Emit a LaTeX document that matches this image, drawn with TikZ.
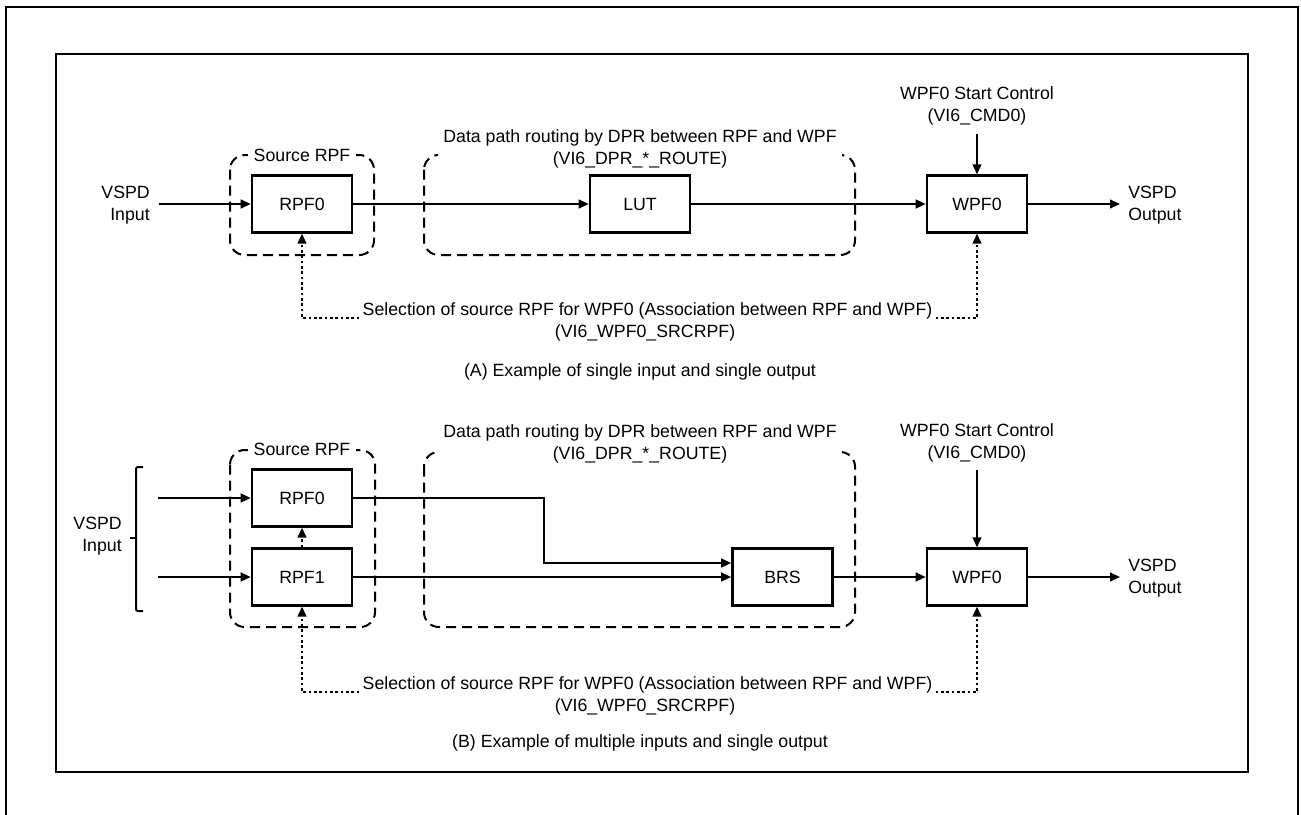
\documentclass[tikz,border=0pt]{standalone}
\usepackage{fontspec}
\setmainfont{Liberation Sans}
\usetikzlibrary{arrows.meta,calc}
\begin{document}
\begin{tikzpicture}[x=0.75pt,y=-0.75pt,
  font=\fontsize{13.3}{16.4}\selectfont,
  blk/.style={draw, line width=1.9pt, minimum width=75pt, minimum height=42.5pt, inner sep=0pt},
  arr/.style={line width=1.5pt, -{Triangle[length=7.5pt,width=6.5pt]}},
  selarr/.style={line width=1.5pt, dash pattern=on 2pt off 2pt, -{Triangle[length=7.5pt,width=6.5pt]}},
  grp/.style={line width=1.5pt, dash pattern=on 7.5pt off 4.5pt, rounded corners=11pt},
  lbl/.style={fill=white, inner xsep=4pt, inner ysep=1.5pt, align=center},
  txt/.style={inner sep=0pt, align=center},
  frame/.style={line width=1.6pt}]
\useasboundingbox (0,0) rectangle (1301,814);

% frames
\draw[frame] (6,840) -- (6,7) -- (1298,7) -- (1298,840);
\draw[line width=1.9pt] (56,54) rectangle (1248,772);

% ================= (A) =================
\draw[grp] (230,155) rectangle (374,255);
\draw[grp] (424,155) rectangle (855,255);

\node[blk] (rpfA) at (302,204) {RPF0};
\node[blk] (lutA) at (640,204) {LUT};
\node[blk] (wpfA) at (977,204) {WPF0};

\node[lbl] (srcA) at (302,155) {Source RPF};
\node[lbl] (dpA) at (640,148.5) {Data path routing by DPR between RPF and WPF\\(VI6\_DPR\_*\_ROUTE)};

\node[txt, align=right, anchor=east] (inA) at (150,205) {VSPD\\Input};
\coordinate (inAs) at (159,204);
\draw[arr] (inAs) -- (rpfA.west);
\draw[arr] (rpfA.east) -- (lutA.west);
\draw[arr] (lutA.east) -- (wpfA.west);

\coordinate (outAe) at (1120,204);
\draw[arr] (wpfA.east) -- (outAe);
\node[txt, align=left, anchor=west] (outA) at (1128,205) {VSPD\\Output};

\node[txt] (stA) at (977,106) {WPF0 Start Control\\(VI6\_CMD0)};
\coordinate (stAs) at (977,134);
\draw[arr] (stAs) -- (wpfA.north);

\node[txt, anchor=base] (selA) at (647.5,315) {Selection of source RPF for WPF0 (Association between RPF and WPF)};
\node[txt, anchor=base] (selA2) at (645,337.5) {(VI6\_WPF0\_SRCRPF)};
\draw[selarr] ($(selA.base west)+(-3,3)$) -| (rpfA.south);
\draw[selarr] ($(selA.base east)+(3,3)$) -| (wpfA.south);

\node[txt] (capA) at (640,372) {(A) Example of single input and single output};

% ================= (B) =================
\draw[grp] (230,450) rectangle (375,627);
\draw[grp] (424,452) rectangle (855,627);

\node[blk] (rpf0B) at (302,498) {RPF0};
\node[blk] (rpf1B) at (302,577) {RPF1};
\node[blk] (brsB) at (782.5,577) {BRS};
\node[blk] (wpfB) at (977,577) {WPF0};

\node[lbl] (srcB) at (302,449) {Source RPF};
\node[lbl] (dpB) at (640,443.5) {Data path routing by DPR between RPF and WPF\\(VI6\_DPR\_*\_ROUTE)};

% input bracket
\draw[line width=1.5pt, rounded corners=1.5pt] (143,467) -- (136,467) -- (136,611) -- (143,611);
\coordinate (brk) at (136,538);
\coordinate (brkt) at (130,538);
\draw[line width=1.5pt] (brk) -- (brkt);
\node[txt, align=right, anchor=east] (inB) at (122,536) {VSPD\\Input};

\coordinate (in0B) at (158,498);
\coordinate (in1B) at (158,577);
\draw[arr] (in0B) -- (rpf0B.west);
\draw[arr] (in1B) -- (rpf1B.west);

\draw[selarr] (rpf1B.north) -- (rpf0B.south);

\draw[arr] (rpf0B.east) -- ++(191,0) |- ($(brsB.west)+(0,-14)$);
\draw[arr] (rpf1B.east) -- (brsB.west);
\draw[arr] (brsB.east) -- (wpfB.west);

\coordinate (outBe) at (1120,577);
\draw[arr] (wpfB.east) -- (outBe);
\node[txt, align=left, anchor=west] (outB) at (1128,578) {VSPD\\Output};

\node[txt] (stB) at (977,443) {WPF0 Start Control\\(VI6\_CMD0)};
\coordinate (stBs) at (977,470);
\draw[arr] (stBs) -- (wpfB.north);

\node[txt, anchor=base] (selB) at (647.5,689) {Selection of source RPF for WPF0 (Association between RPF and WPF)};
\node[txt, anchor=base] (selB2) at (645,711.5) {(VI6\_WPF0\_SRCRPF)};
\draw[selarr] ($(selB.base west)+(-3,3)$) -| (rpf1B.south);
\draw[selarr] ($(selB.base east)+(3,3)$) -| (wpfB.south);

\node[txt] (capB) at (640,743) {(B) Example of multiple inputs and single output};
\end{tikzpicture}
\end{document}
